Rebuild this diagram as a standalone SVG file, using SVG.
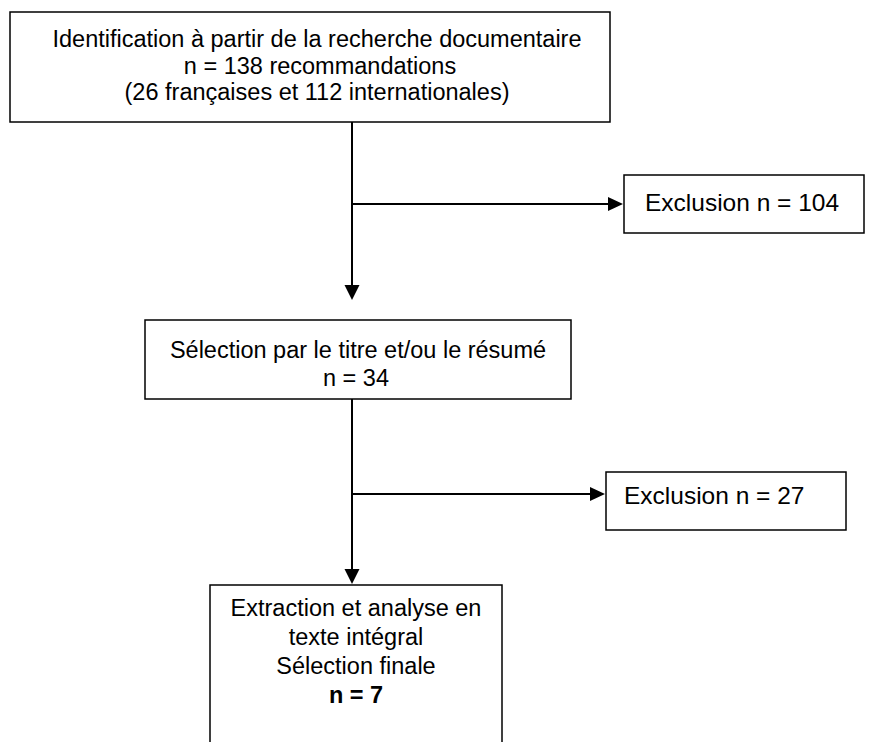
<svg xmlns="http://www.w3.org/2000/svg" width="894" height="742" viewBox="0 0 894 742">
<style>
.box{fill:#fff;stroke:#000;stroke-width:1.5}
.t{font-family:"Liberation Sans",Arial,sans-serif;font-size:23.5px;fill:#000}
.x{font-size:24.5px}
.c{text-anchor:middle}
.b{font-weight:bold}
.ln{stroke:#000;stroke-width:2;fill:none}
</style>
<rect width="894" height="742" fill="#fff"/>
<g id="connectors">
<line class="ln" x1="352" y1="122" x2="352" y2="285"/>
<path d="M344.5,285 L359.5,285 L352,300 Z" fill="#000"/>
<line class="ln" x1="352" y1="204" x2="608" y2="204"/>
<path d="M608,197 L608,211 L623,204 Z" fill="#000"/>
<line class="ln" x1="352" y1="399" x2="352" y2="569"/>
<path d="M344.5,569 L359.5,569 L352,584 Z" fill="#000"/>
<line class="ln" x1="352" y1="494" x2="590" y2="494"/>
<path d="M590,487 L590,501 L605,494 Z" fill="#000"/>
</g>
<g id="identification">
<rect class="box" x="10" y="12" width="600" height="110"/>
<text class="t c" x="317" y="47">Identification à partir de la recherche documentaire</text>
<text class="t c" x="320" y="73.5">n = 138 recommandations</text>
<text class="t c" x="317" y="100">(26 françaises et 112 internationales)</text>
</g>
<g id="exclusion1">
<rect class="box" x="624" y="175" width="240" height="58"/>
<text class="t x" x="645" y="211">Exclusion n = 104</text>
</g>
<g id="selection">
<rect class="box" x="145" y="320" width="426" height="79"/>
<text class="t c" x="358" y="358">Sélection par le titre et/ou le résumé</text>
<text class="t c" x="356" y="386">n = 34</text>
</g>
<g id="exclusion2">
<rect class="box" x="606" y="472" width="240" height="58"/>
<text class="t x" x="624" y="504">Exclusion n = 27</text>
</g>
<g id="finale">
<rect class="box" x="210" y="585" width="292" height="200"/>
<text class="t c" x="356" y="616">Extraction et analyse en</text>
<text class="t c" x="356" y="645">texte intégral</text>
<text class="t c" x="356" y="674">Sélection finale</text>
<text class="t c b" x="356" y="703">n = 7</text>
</g>
</svg>
